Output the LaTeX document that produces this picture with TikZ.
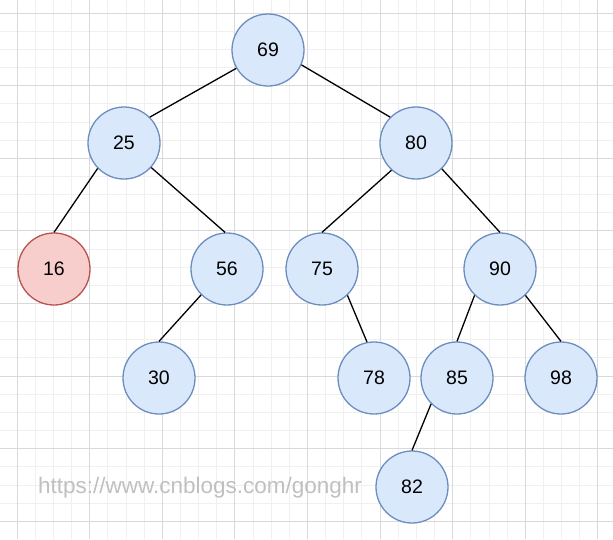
\documentclass[tikz,border=0pt]{standalone}
\usepackage{fontspec}
\setmainfont{Liberation Sans}
\usepackage{xcolor}
\usepackage{tikz}

\definecolor{keyfill}{HTML}{DAE8FC}
\definecolor{keydraw}{HTML}{6C8EBF}
\definecolor{newfill}{HTML}{F8CECC}
\definecolor{newdraw}{HTML}{B85450}
\definecolor{gridminor}{HTML}{F0F0F0}
\definecolor{gridmajor}{HTML}{D9D9D9}
\definecolor{marktext}{HTML}{C0C0C0}

\begin{document}
\begin{tikzpicture}[
  x=1pt, y=-1pt,
  key/.style={circle, draw=keydraw, fill=keyfill, line width=1.3pt, minimum size=72pt, inner sep=0pt, font=\fontsize{19.5}{22}\selectfont},
  newkey/.style={key, draw=newdraw, fill=newfill},
  edge/.style={line width=1.3pt, black}
]
\useasboundingbox (0,0) rectangle (613,539);
\fill[white] (0,0) rectangle (613,539);
% background grid
\foreach \i in {0,...,34} \draw[gridminor, line width=0.8pt] (-1.15+18.15*\i,0) -- (-1.15+18.15*\i,539);
\foreach \i in {0,...,28} \draw[gridminor, line width=0.8pt] (0,13+18.15*\i) -- (613,13+18.15*\i);
\foreach \i in {0,...,8} \draw[gridmajor, line width=0.8pt] (17+72.6*\i,0) -- (17+72.6*\i,539);
\foreach \i in {0,...,7} \draw[gridmajor, line width=0.8pt] (0,13+72.6*\i) -- (613,13+72.6*\i);

\node[key] (n69) at (268,50) {69};
\node[key] (n25) at (124,143) {25};
\node[key] (n80) at (416,143) {80};
\node[newkey] (n16) at (54,269) {16};
\node[key] (n56) at (227,269) {56};
\node[key] (n75) at (322,269) {75};
\node[key] (n90) at (500,269) {90};
\node[key] (n30) at (159,378) {30};
\node[key] (n78) at (374,378) {78};
\node[key] (n85) at (457,378) {85};
\node[key] (n98) at (561,378) {98};
\node[key] (n82) at (412,487) {82};

\draw[edge] (n69.210) -- (n25.45);
\draw[edge] (n69.-24) -- (n80.135);
\draw[edge] (n25.224) -- (n16.north);
\draw[edge] (n25.-42) -- (n56.93);
\draw[edge] (n56.225) -- (n30.north);
\draw[edge] (n80.228) -- (n75.north);
\draw[edge] (n80.-45) -- (n90.north);
\draw[edge] (n75.-46) -- (n78.101);
\draw[edge] (n90.226) -- (n85.north);
\draw[edge] (n90.-46) -- (n98.north);
\draw[edge] (n85.225) -- (n82.north);

\node[text=marktext, font=\fontsize{22.5}{26}\selectfont] (mark) at (200,488) {https://www.cnblogs.com/gonghr};
\end{tikzpicture}
\end{document}
